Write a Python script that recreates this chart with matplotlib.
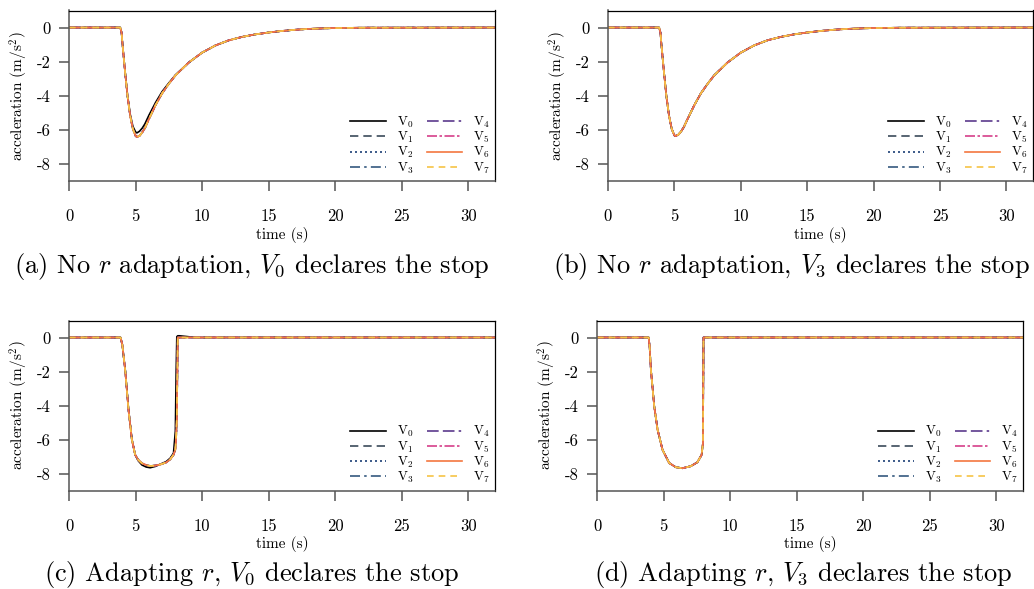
import matplotlib
matplotlib.use("Agg")
import matplotlib.pyplot as plt

plt.rcParams['font.family'] = ['cmr10', 'DejaVu Serif']
plt.rcParams['mathtext.fontset'] = 'cm'
plt.rcParams['axes.unicode_minus'] = False
plt.rcParams['axes.formatter.use_mathtext'] = True

# ---------------- data ----------------
labels = ["V$_0$", "V$_1$", "V$_2$", "V$_3$", "V$_4$", "V$_5$", "V$_6$", "V$_7$"]
xticks = [0, 5, 10, 15, 20, 25, 30]
yticks = [0, -2, -4, -6, -8]
ytick_labels = ["0", "-2", "-4", "-6", "-8"]

# (a) No r adaptation, V0 declares
t_a = [0, 3.85, 3.95, 4.0, 4.2, 4.4, 4.6, 4.8, 5.0, 5.1, 5.3, 5.5, 5.7, 6.0, 6.5,
       7.0, 7.5, 8.0, 9.0, 10, 11, 12, 13, 14, 15, 16, 17, 18, 19, 20, 22, 32]
acc_a_others = [0, 0, -0.3, -0.8, -2.5, -4.05, -5.2, -5.95, -6.35, -6.42, -6.35, -6.15, -5.9, -5.38, -4.55,
                -3.85, -3.3, -2.8, -2.05, -1.47, -1.05, -0.75, -0.55, -0.4, -0.29, -0.2, -0.13, -0.08, -0.05, -0.03, -0.01, 0]
acc_a_v0 = [0, 0, -0.3, -0.8, -2.5, -4.0, -5.1, -5.8, -6.12, -6.18, -6.08, -5.9, -5.65, -5.15, -4.4,
            -3.75, -3.25, -2.78, -2.05, -1.47, -1.05, -0.75, -0.55, -0.4, -0.29, -0.2, -0.13, -0.08, -0.05, -0.03, -0.01, 0]

# (b) No r adaptation, V3 declares
t_b = t_a
acc_b = [0, 0, -0.3, -0.8, -2.5, -4.05, -5.2, -5.95, -6.33, -6.36, -6.28, -6.1, -5.85, -5.35, -4.55,
         -3.85, -3.3, -2.8, -2.05, -1.47, -1.05, -0.75, -0.55, -0.4, -0.29, -0.2, -0.13, -0.08, -0.05, -0.03, -0.01, 0]

# (c) Adapting r, V0 declares
t_c = [0, 3.87, 4.0, 4.22, 4.47, 4.72, 4.97, 5.2, 5.48, 5.8, 6.1, 6.5, 6.86, 7.3, 7.6, 7.85, 7.99,
       8.05, 8.1, 8.17, 8.3, 8.8, 9.5, 32]
acc_c_others = [0, 0, -0.4, -1.9, -4.25, -6.0, -6.9, -7.2, -7.4, -7.5, -7.56, -7.53, -7.47, -7.35, -7.17, -6.9, -6.6,
                -5.8, -4.8, 0, 0, 0, 0, 0]
acc_c_v0 = [0, 0, -0.4, -1.9, -4.2, -5.95, -6.9, -7.25, -7.5, -7.62, -7.66, -7.58, -7.45, -7.3, -7.1, -6.8, -5.5,
            -2.0, 0.05, 0.1, 0.1, 0.06, 0, 0]

# (d) Adapting r, V3 declares
t_d = [0, 3.88, 3.95, 4.05, 4.3, 4.55, 4.92, 5.42, 5.92, 6.42, 7.04, 7.54, 7.86, 7.96, 8.0, 32]
acc_d = [0, 0, -0.5, -1.9, -4.05, -5.42, -6.6, -7.38, -7.63, -7.69, -7.57, -7.34, -6.9, -6.2, 0, 0]

captions = [r"(a) No $r$ adaptation, $V_0$ declares the stop",
            r"(b) No $r$ adaptation, $V_3$ declares the stop",
            r"(c) Adapting $r$, $V_0$ declares the stop",
            r"(d) Adapting $r$, $V_3$ declares the stop"]

# ---------------- style ----------------
colors = ["#000000", "#3b4a5a", "#1c3f75", "#35597f", "#5b3a8c", "#d63f8a", "#f4773f", "#f6c445"]
styles = ["-", (0, (5, 3)), (0, (1.2, 1.8)), (0, (6, 2.5, 1.5, 2.5)), (0, (7, 2.5, 7, 2.5, 1.5, 2.5)),
          (0, (6, 1.5, 1.5, 1.5)), "-", (0, (4, 3))]

W, H = 1034, 589
fig = plt.figure(figsize=(W / 100, H / 100), dpi=100)

def rect(left, top, right, bottom):
    return [left / W, 1 - bottom / H, (right - left) / W, (bottom - top) / H]

panels = [
    (rect(69, 10.5, 495, 181), t_a, [acc_a_v0] + [acc_a_others] * 7, (252, 267)),
    (rect(608, 10.5, 1033, 181), t_b, [acc_b] * 8, (791, 267)),
    (rect(69, 320.5, 495, 490.5), t_c, [acc_c_v0] + [acc_c_others] * 7, (252, 575)),
    (rect(597, 320.5, 1023, 490.5), t_d, [acc_d] * 8, (803, 575)),
]

for (r, t, series, cap), caption in zip(panels, captions):
    ax = fig.add_axes(r)
    for i, y in enumerate(series):
        ax.plot(t, y, color=colors[i], linestyle=styles[i], lw=1.2, label=labels[i])
    ax.set_xlim(0, 32)
    ax.set_ylim(-9, 1)
    ax.set_xticks(xticks)
    ax.set_xticklabels([str(v) for v in xticks])
    ax.set_yticks(yticks)
    ax.set_yticklabels(ytick_labels)
    ax.tick_params(axis='x', direction='out', length=7, width=1.1, color='#555555', pad=13, labelsize=12)
    ax.tick_params(axis='y', direction='out', length=7, width=1.1, color='#555555', pad=6, labelsize=12)
    for s in ['left', 'bottom']:
        ax.spines[s].set_color('#555555')
        ax.spines[s].set_linewidth(1.1)
    for s in ['top', 'right']:
        ax.spines[s].set_color('black')
        ax.spines[s].set_linewidth(0.9)
    ax.set_xlabel("time (s)", fontsize=11, labelpad=2)
    ax.set_ylabel("acceleration (m/s$^2$)", fontsize=11, labelpad=5)
    ax.legend(ncol=2, loc='lower right', frameon=False, fontsize=9.5, handlelength=2.7,
              handletextpad=0.8, columnspacing=1.0, labelspacing=0.0, borderaxespad=0.1,
              borderpad=0.3)
    fig.text(cap[0] / W, 1 - cap[1] / H, caption, ha='center', va='center', fontsize=19)

fig.savefig("out.png", dpi=100)
